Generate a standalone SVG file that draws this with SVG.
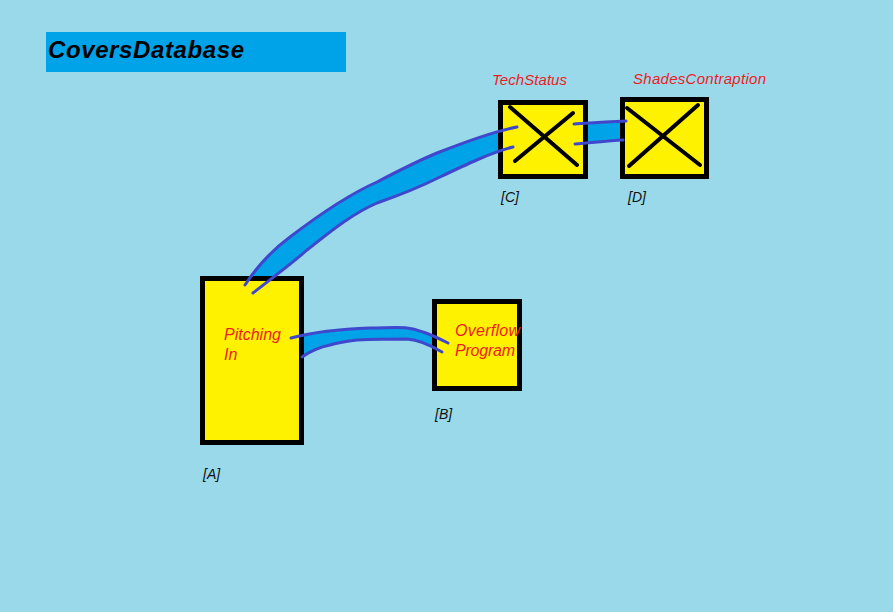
<svg xmlns="http://www.w3.org/2000/svg" width="893" height="612" viewBox="0 0 893 612">
<style>
.box{fill:#fff200;stroke:#000;stroke-width:5}
.x{stroke:#000;stroke-width:4;stroke-linecap:round}
.lbl{font-family:"Liberation Sans",Arial,sans-serif;font-style:italic;font-size:15px;fill:#ed1c24}
.lbl2{font-family:"Liberation Sans",Arial,sans-serif;font-style:italic;font-size:16px;fill:#ed1c24}
.tag{font-family:"Liberation Sans",Arial,sans-serif;font-style:italic;font-size:14px;fill:#111}
.pipe{fill:#00a2e8;stroke:none}
.edge{fill:none;stroke:#3f48cc;stroke-width:3;stroke-linecap:round;stroke-linejoin:round}
</style>
<defs>
<clipPath id="outside">
<path clip-rule="evenodd" d="M0,0H893V612H0Z M200,276H304V445H200Z M432,299H522V391H432Z M498,100H588V179H498Z M620,97H709V179H620Z"/>
</clipPath>
</defs>
<rect width="893" height="612" fill="#99d9ea"/>
<g id="title">
<rect x="46" y="32" width="300" height="40" fill="#00a2e8"/>
<text x="48" y="58" font-family="'Liberation Sans',Arial,sans-serif" font-weight="bold" font-style="italic" font-size="24" fill="#000" textLength="196">CoversDatabase</text>
</g>
<g id="nodeA">
<rect class="box" x="202.5" y="278.5" width="99" height="164"/>
<text class="lbl2" x="224" y="340" textLength="57">Pitching</text>
<text class="lbl2" x="224" y="360">In</text>
<text class="tag" x="203" y="479">[A]</text>
</g>
<g id="nodeB">
<rect class="box" x="434.5" y="301.5" width="85" height="87"/>
<text class="lbl2" x="455" y="336" textLength="65">Overflow</text>
<text class="lbl2" x="455" y="356" textLength="60">Program</text>
<text class="tag" x="435" y="419">[B]</text>
</g>
<g id="nodeC">
<rect class="box" x="500.5" y="102.5" width="85" height="74"/>
<line class="x" x1="510" y1="107" x2="577" y2="165"/>
<line class="x" x1="573" y1="113" x2="515" y2="161"/>
<text class="lbl" x="492" y="85" textLength="75">TechStatus</text>
<text class="tag" x="501" y="202">[C]</text>
</g>
<g id="nodeD">
<rect class="box" x="622.5" y="99.5" width="84" height="77"/>
<line class="x" x1="627" y1="108" x2="700" y2="165"/>
<line class="x" x1="698" y1="105" x2="629" y2="166"/>
<text class="lbl" x="633" y="84" textLength="133">ShadesContraption</text>
<text class="tag" x="628" y="202">[D]</text>
</g>
<g id="connectors">
<g clip-path="url(#outside)">
<path class="pipe" d="M245,285 C260,262 275,248 290,237 C320,214 350,194 377,182 C400,170 420,160 437,153 C470,140 495,131 517,127 L513,147 C490,153 465,165 440,177 C420,187 400,195 377,203 C350,215 330,232 307,250 C290,265 272,278 253,293 Z"/>
<path class="pipe" d="M574,124 L626,121 L623,140 L575,144 Z"/>
<path class="pipe" d="M291,338 C310,333 340,329 370,328 L407,328 C420,330 435,336 448,343 L442,352 C432,346 420,340 407,339 L357,340 C340,342 318,348 302,357 Z"/>
</g>
<path class="edge" d="M245,285 C260,262 275,248 290,237 C320,214 350,194 377,182 C400,170 420,160 437,153 C470,140 495,131 517,127"/>
<path class="edge" d="M253,293 C272,278 290,265 307,250 C330,232 350,215 377,203 C400,195 420,187 440,177 C465,165 490,153 513,147"/>
<path class="edge" d="M574,124 C590,123 605,122 626,121"/>
<path class="edge" d="M575,144 C590,143 605,141 623,140"/>
<path class="edge" d="M291,338 C310,333 340,329 370,328 C385,328 398,327 407,328 C415,329 420,331 423,332 C432,335 440,339 448,343"/>
<path class="edge" d="M302,357 C312,350 320,347 330,345 C340,342 348,341 357,340 C380,339 395,339 407,339 C420,340 432,346 442,352"/>
</g>
</svg>
